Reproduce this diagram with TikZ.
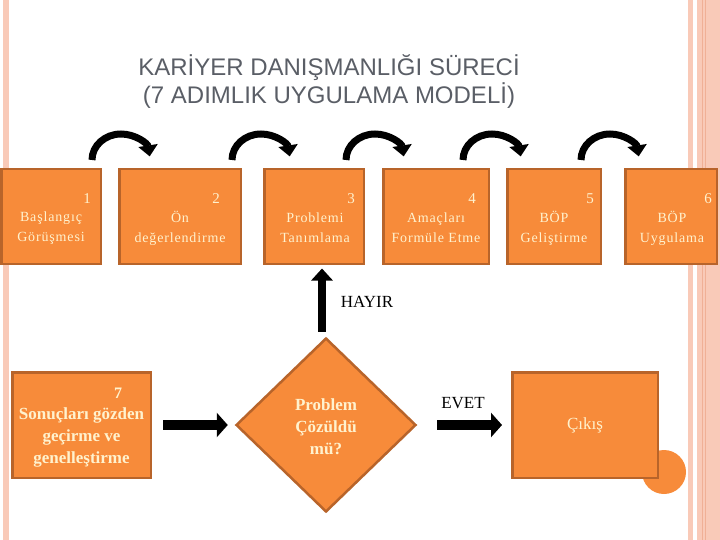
\documentclass[tikz,border=0pt]{standalone}
\usepackage{fontspec}
\setmainfont{Liberation Serif}
\newfontfamily\titlefont{Liberation Sans}
\usetikzlibrary{arrows.meta,shapes.geometric}
\definecolor{orfill}{RGB}{247,139,58}
\definecolor{ordraw}{RGB}{184,100,42}
\definecolor{cream}{RGB}{255,242,206}
\definecolor{pale}{RGB}{249,202,184}
\definecolor{paledark}{RGB}{240,176,150}
\definecolor{titlegray}{RGB}{90,94,102}
\begin{document}
\begin{tikzpicture}[x=1pt,y=-1pt,
  box/.style={draw=ordraw,fill=orfill,line width=2.5pt,inner sep=0pt},
  toptxt/.style={text=cream,align=center,inner sep=0pt,font=\fontsize{14}{20}\selectfont\addfontfeature{LetterSpace=6}},
  numtxt/.style={text=cream,inner sep=0pt,font=\fontsize{15}{18}\selectfont},
  boldtxt/.style={text=cream,align=center,inner sep=0pt,font=\fontsize{17}{22}\selectfont\bfseries},
  lbl/.style={text=black,inner sep=0pt,font=\fontsize{17}{20}\selectfont},
  blockarrow/.style={line width=10pt,-{Triangle[length=11pt 0,width=24pt 0]}},
  uparrow/.style={line width=7.5pt,-{Triangle[length=12pt 0,width=21pt 0]}},
  curv/.style={line width=7pt,-{Triangle[length=11pt 0,width=19pt 0]}}]
\useasboundingbox (0,0) rectangle (720,540);
% background stripes
\fill[pale] (3,0) rectangle (9,540);
\fill[pale] (688,0) rectangle (693,540);
\fill[pale] (697,0) rectangle (720,540);
\fill[paledark] (701.5,0) rectangle (703,540);
\fill[paledark] (705,0) rectangle (706,540);
% title
\node[text=titlegray,align=center,font=\titlefont\fontsize{24}{28}\selectfont] (title) at (329,82)
  {KARİYER DANIŞMANLIĞI SÜRECİ\\(7 ADIMLIK UYGULAMA MODELİ)};
% exit circle
\fill[orfill] (664,472) circle[radius=22pt];
% top boxes
\node[box,minimum width=99.5pt,minimum height=94.5pt] (b1) at (51,216.5) {};
\node[box,minimum width=121.5pt,minimum height=94.5pt] (b2) at (180,216.5) {};
\node[box,minimum width=99.5pt,minimum height=94.5pt] (b3) at (314,216.5) {};
\node[box,minimum width=105.5pt,minimum height=94.5pt] (b4) at (436,216.5) {};
\node[box,minimum width=93.5pt,minimum height=94.5pt] (b5) at (554,216.5) {};
\node[box,minimum width=91.5pt,minimum height=94.5pt] (b6) at (671,216.5) {};
\node[toptxt] (t1) at (51,228) {Başlangıç\\Görüşmesi};
\node[toptxt] (t2) at (180,228) {Ön\\değerlendirme};
\node[toptxt] (t3) at (315,228) {Problemi\\Tanımlama};
\node[toptxt] (t4) at (436,228) {Amaçları\\Formüle Etme};
\node[toptxt] (t5) at (554,228) {BÖP\\Geliştirme};
\node[toptxt] (t6) at (672,228) {BÖP\\Uygulama};
\node[numtxt] (n1) at (87,199) {1};
\node[numtxt] (n2) at (216,199) {2};
\node[numtxt] (n3) at (351,199) {3};
\node[numtxt] (n4) at (472,199) {4};
\node[numtxt] (n5) at (590,199) {5};
\node[numtxt] (n6) at (708,199) {6};
% lower row
\node[box,minimum width=138.5pt,minimum height=105.5pt] (b7) at (81.5,425) {};
\node[boldtxt] (t7) at (81.5,437) {Sonuçları gözden\\geçirme ve\\genelleştirme};
\node[numtxt,font=\fontsize{16}{18}\selectfont\bfseries] (n7) at (118,393) {7};
\node[box,shape=diamond,minimum width=180pt,minimum height=174pt] (dia) at (326,425) {};
\node[boldtxt] (td) at (326,427) {Problem\\Çözüldü\\mü?};
\node[box,minimum width=145.5pt,minimum height=105.5pt,text=cream,font=\fontsize{17}{20}\selectfont] (exit) at (585,425) {Çıkış};
% labels
\node[lbl] (hayir) at (367,302) {HAYIR};
\node[lbl] (evet) at (463,403) {EVET};
% connectors
\draw[blockarrow,shorten <=11pt,shorten >=7pt] (b7.east) -- (dia.west);
\draw[blockarrow,shorten <=20pt,shorten >=9pt] (dia.east) -- (exit.west);
\draw[uparrow,shorten <=5pt,shorten >=3.5pt] ([xshift=-4pt]dia.north) -- ([xshift=8pt]b3.south);
% curved arrows between top boxes
\coordinate (c1) at (92,160);
\coordinate (c2) at (232,160);
\coordinate (c3) at (346,160);
\coordinate (c4) at (463,160);
\coordinate (c5) at (581,160);
\foreach \c in {c1,c2,c3,c4,c5}
  \draw[curv] (\c) arc[start angle=180,end angle=8,x radius=29pt,y radius=26pt];
\end{tikzpicture}
\end{document}
